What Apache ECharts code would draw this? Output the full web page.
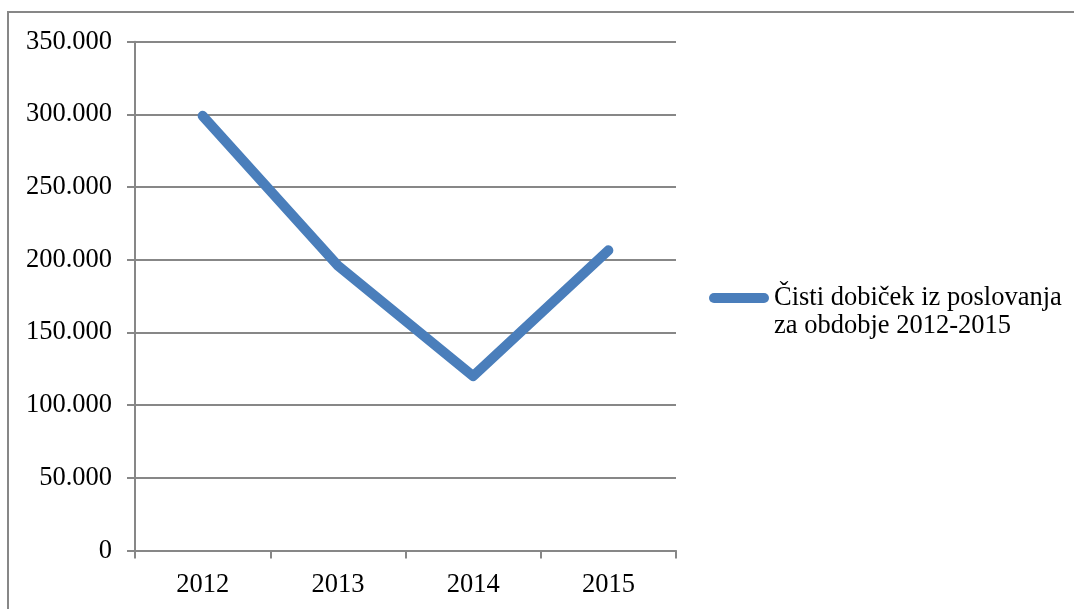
<!DOCTYPE html>
<html>
<head>
<meta charset="utf-8">
<title>Čisti dobiček iz poslovanja</title>
<script src="https://cdn.jsdelivr.net/npm/echarts@6/dist/echarts.min.js"></script>
<style>
  html, body { margin: 0; padding: 0; background: #ffffff; }
  #chart { width: 1074px; height: 609px; }
</style>
</head>
<body>
<div id="chart"></div>
<script>
// Years on the category axis
const years = ['2012', '2013', '2014', '2015'];
// Net profit from operations per year
const netProfit = [299000, 196000, 120000, 206500];
const seriesName = 'Čisti dobiček iz poslovanja\nza obdobje 2012-2015';
// Value axis range
const yMin = 0;
const yMax = 350000;
const yStep = 50000;

const serif = '"Liberation Serif", "Times New Roman", serif';
const gray = '#878787';
const blue = '#4a7ebb';

// Thousands separated by a dot, e.g. 350.000
function formatThousands(v) {
  return String(Math.round(v)).replace(/\B(?=(\d{3})+(?!\d))/g, '.');
}

const chart = echarts.init(document.getElementById('chart'), null, { renderer: 'canvas' });

chart.setOption({
  animation: false,
  backgroundColor: '#ffffff',
  graphic: [{
    type: 'rect',
    shape: { x: 8, y: 12, width: 1200, height: 800 },
    style: { fill: 'none', stroke: gray, lineWidth: 2 },
    silent: true,
    z: -1
  }],
  grid: {
    left: 135,
    right: 398,
    top: 41.7,
    bottom: 58.4,
    containLabel: false
  },
  legend: {
    left: 709,
    top: 256,
    padding: 0,
    orient: 'vertical',
    itemWidth: 60,
    itemHeight: 10,
    icon: 'path://M5,0 H55 A5,5 0 0 1 55,10 H5 A5,5 0 0 1 5,0 Z',
    // a leading empty line keeps the marker level with the first text line
    formatter: function (name) { return ' \n' + name; },
    textStyle: {
      fontFamily: serif,
      fontSize: 26.5,
      lineHeight: 28,
      color: '#000000'
    },
    data: [seriesName]
  },
  xAxis: {
    type: 'category',
    data: years,
    boundaryGap: true,
    axisLine: { show: true, lineStyle: { color: gray, width: 2 } },
    axisTick: { show: true, length: 8, lineStyle: { color: gray, width: 2 } },
    axisLabel: {
      fontFamily: serif,
      fontSize: 26.5,
      color: '#000000',
      margin: 21
    },
    splitLine: { show: false }
  },
  yAxis: {
    type: 'value',
    min: yMin,
    max: yMax,
    interval: yStep,
    axisLine: { show: true, lineStyle: { color: gray, width: 2 } },
    axisTick: { show: true, length: 8, lineStyle: { color: gray, width: 2 } },
    axisLabel: {
      fontFamily: serif,
      fontSize: 26.5,
      color: '#000000',
      margin: 23,
      formatter: formatThousands
    },
    splitLine: { show: true, lineStyle: { color: gray, width: 2 } }
  },
  series: [{
    name: seriesName,
    type: 'line',
    data: netProfit,
    symbol: 'none',
    color: blue,
    lineStyle: { color: blue, width: 10, cap: 'round', join: 'round' },
    itemStyle: { color: blue }
  }]
});
</script>
</body>
</html>
